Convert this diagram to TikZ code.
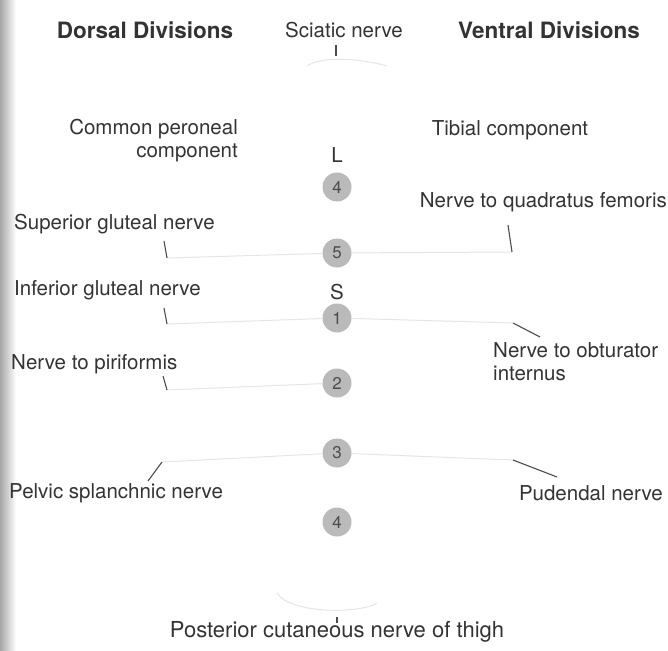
\documentclass[tikz,border=0pt]{standalone}
\usepackage{fontspec}
\setmainfont{TeX Gyre Heros}
\usepackage{tikz}

\begin{document}
\begin{tikzpicture}[x=1pt,y=-1pt,
    lbl/.style={text=black!80,font=\fontsize{20.5}{23}\selectfont,inner sep=0pt},
    head/.style={lbl,font=\fontsize{22.5}{25}\selectfont\bfseries},
    seg/.style={circle,fill=black!27,text=black!70,minimum size=29pt,inner sep=0pt,
                font=\fontsize{17}{19}\selectfont},
    leader/.style={black!70,line width=1.1pt},
    faint/.style={black!10,line width=1pt}]
    \useasboundingbox (0,0) rectangle (668,650);
    \shade[left color=black!35,right color=white] (0,0) rectangle (16,650);

    \node[head] (dorsal) at (145,30) {Dorsal Divisions};
    \node[lbl] (sciatic) at (344,30) {Sciatic nerve};
    \node[head] (ventral) at (549,30) {Ventral Divisions};

    \node[lbl,align=right,anchor=east] (peroneal) at (238,141) {Common peroneal\\component};
    \node[lbl] (tibial) at (510,130) {Tibial component};

    % spinal segments
    \node[lbl] (L) at (337,155) {L};
    \node[seg] (l4) at (337,187) {4};
    \node[seg] (l5) at (337,253) {5};
    \node[lbl] (S) at (337,292) {S};
    \node[seg] (s1) at (337,318) {1};
    \node[seg] (s2) at (337,383) {2};
    \node[seg] (s3) at (337,453) {3};
    \node[seg] (s4) at (337,522) {4};

    \node[lbl,anchor=east] (quad) at (667,202) {Nerve to quadratus femoris};
    \node[lbl,anchor=west] (supglut) at (14,224) {Superior gluteal nerve};
    \node[lbl,anchor=west] (infglut) at (14,290) {Inferior gluteal nerve};
    \node[lbl,align=left,anchor=west] (obtint) at (493,362) {Nerve to obturator\\internus};
    \node[lbl,anchor=west] (piri) at (11,364) {Nerve to piriformis};
    \node[lbl,anchor=west] (pelvic) at (9,493) {Pelvic splanchnic nerve};
    \node[lbl,anchor=east] (pudendal) at (663,493) {Pudendal nerve};
    \node[lbl,font=\fontsize{22}{25}\selectfont] (postcut) at (337,632) {Posterior cutaneous nerve of thigh};

    % leader ends
    \coordinate (snA) at (336,45);  \coordinate (snB) at (336,56);
    \coordinate (sgA) at (164,241); \coordinate (sgB) at (167,258);
    \coordinate (qfA) at (508,225); \coordinate (qfB) at (512,252);
    \coordinate (igA) at (164,308); \coordinate (igB) at (167,324);
    \coordinate (oiA) at (513,323); \coordinate (oiB) at (540,337);
    \coordinate (npA) at (163,376); \coordinate (npB) at (167,390);
    \coordinate (psA) at (148,481); \coordinate (psB) at (162,462);
    \coordinate (pnA) at (513,460); \coordinate (pnB) at (557,477);
    \coordinate (pcA) at (337,617); \coordinate (pcB) at (337,623);

    % faded branches
    \draw[faint] (307,66) .. controls (320,57) and (355,57) .. (387,66);
    \draw[faint] (sgB) -- (l5) -- (qfB);
    \draw[faint] (igB) -- (s1) -- (oiA);
    \draw[faint] (npB) -- (s2);
    \draw[faint] (psB) -- (s3) -- (pnA);
    \draw[faint] (277,593) .. controls (290,614) and (360,614) .. (377,603);

    \foreach \a/\b in {snA/snB,sgA/sgB,qfA/qfB,igA/igB,oiA/oiB,npA/npB,psA/psB,pnA/pnB,pcA/pcB}
        \draw[leader] (\a) -- (\b);
\end{tikzpicture}
\end{document}
